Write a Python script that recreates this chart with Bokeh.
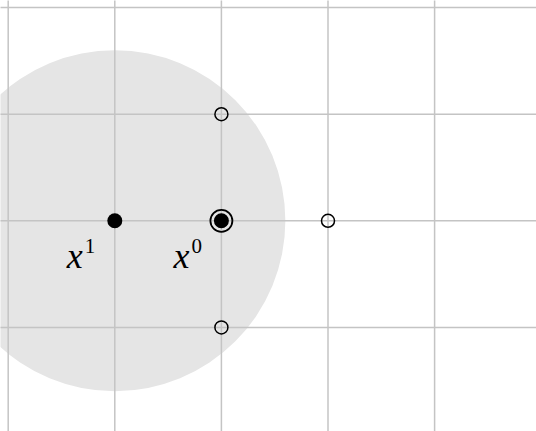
from bokeh.plotting import figure
from bokeh.models import Range1d
from bokeh.core.properties import value
from bokeh.embed import file_html
from bokeh.resources import INLINE

# data
grid_x = [-1, 0, 1, 2, 3, 4]
grid_y = [-2, -1, 0, 1, 2]
disc_center = (0, 0)
disc_radius = 1.6
iter_x = [0, 1]          # x^1, x^0
iter_y = [0, 0]
iter_names = ["1", "0"]
neigh_x = [1, 2, 1]
neigh_y = [1, 0, -1]

u = 106.6
W, H = 536, 431
x0px, y0px = 114.3, 220.3
p = figure(width=W, height=H, output_backend="svg", toolbar_location=None,
           x_range=Range1d(-x0px / u, (W - x0px) / u),
           y_range=Range1d(-(H - y0px) / u, y0px / u),
           min_border=0, outline_line_color=None)
p.axis.visible = False
p.xgrid.visible = False
p.ygrid.visible = False

# disc
p.circle(x=[disc_center[0]], y=[disc_center[1]], radius=disc_radius,
         fill_color="#e5e5e5", line_color=None)

# grid lines
p.segment(x0=grid_x, y0=[-5] * len(grid_x), x1=grid_x, y1=[5] * len(grid_x),
          line_color="#c4c4c4", line_width=1.5)
p.segment(x0=[-5] * len(grid_y), y0=grid_y, x1=[6] * len(grid_y), y1=grid_y,
          line_color="#c4c4c4", line_width=1.5)

# neighbours (open)
p.scatter(x=neigh_x, y=neigh_y, size=13, fill_color=None,
          line_color="black", line_width=1.5)
# ring around x^0
p.scatter(x=[iter_x[1]], y=[iter_y[1]], size=22, fill_color=None,
          line_color="black", line_width=1.8)
# iterates (filled)
p.scatter(x=iter_x, y=iter_y, size=15, fill_color="black", line_color=None)

# labels
p.text(x=iter_x, y=iter_y, text=["x", "x"], x_offset=-40, y_offset=35,
       text_font=value("Liberation Serif"), text_font_style="italic",
       text_font_size="36px", text_align="center", text_baseline="alphabetic",
       text_color="black")
p.text(x=iter_x, y=iter_y, text=iter_names, x_offset=-30, y_offset=25,
       text_font=value("Liberation Serif"), text_font_size="21px",
       text_align="left", text_baseline="alphabetic", text_color="black")

open("out.html", "w").write(file_html(p, INLINE))
